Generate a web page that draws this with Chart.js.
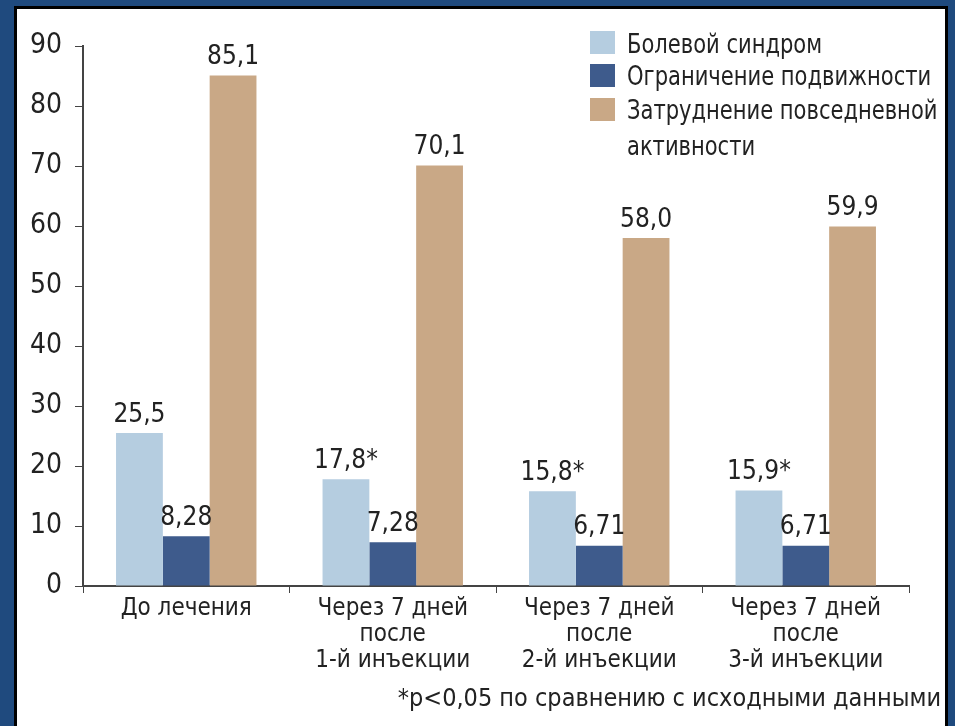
<!DOCTYPE html>
<html>
<head>
<meta charset="utf-8">
<script src="https://cdn.jsdelivr.net/npm/chart.js@4"></script>
<style>
  body { margin: 0; background: #1f4a7e; width: 955px; height: 726px; overflow: hidden; position: relative; font-family: "Liberation Sans Narrow", "DejaVu Sans Condensed", sans-serif; color: #222; }
  #panel { position: absolute; left: 14px; top: 6px; width: 934px; height: 730px; background: #fff; border: 3px solid #000; box-sizing: border-box; }
  #wrap { position: absolute; left: 0; top: 0; width: 955px; height: 726px; }
  .leg { position: absolute; font-size: 26px; line-height: 28px; white-space: nowrap; transform: scaleX(0.9); transform-origin: 0 0; }
  .sw { position: absolute; left: 590px; width: 25px; height: 23px; }
  #note { position: absolute; right: 14px; top: 683px; font-size: 25px; }
</style>
</head>
<body>
<div id="panel"></div>
<div id="wrap"><canvas id="chart"></canvas></div>
<div class="sw" style="top:31px;background:#b5cde0"></div>
<div class="leg" style="left:627px;top:30px">Болевой синдром</div>
<div class="sw" style="top:64px;background:#3e5b8c"></div>
<div class="leg" style="left:627px;top:62px">Ограничение подвижности</div>
<div class="sw" style="top:98px;background:#c9a886"></div>
<div class="leg" style="left:627px;top:96px">Затруднение повседневной</div>
<div class="leg" style="left:627px;top:132px">активности</div>
<div id="note">*p&lt;0,05 по сравнению с исходными данными</div>
<script>
var categories = [
    'До лечения',
    ['Через 7 дней', 'после', '1-й инъекции'],
    ['Через 7 дней', 'после', '2-й инъекции'],
    ['Через 7 дней', 'после', '3-й инъекции']
];
var pain = [25.5, 17.8, 15.8, 15.9];
var mobility = [8.28, 7.28, 6.71, 6.71];
var activity = [85.1, 70.1, 58.0, 59.9];
var painLabels = ['25,5', '17,8*', '15,8*', '15,9*'];
var mobilityLabels = ['8,28', '7,28', '6,71', '6,71'];
var activityLabels = ['85,1', '70,1', '58,0', '59,9'];

var fontName = '"Liberation Sans Narrow", "DejaVu Sans Condensed", sans-serif';

var valueLabels = {
    id: 'valueLabels',
    afterDatasetsDraw: function(chart) {
        var ctx = chart.ctx;
        ctx.save();
        ctx.font = '26px ' + fontName;
        ctx.fillStyle = '#222';
        ctx.textAlign = 'center';
        ctx.textBaseline = 'bottom';
        chart.data.datasets.forEach(function(ds, i) {
            chart.getDatasetMeta(i).data.forEach(function(bar, j) {
                ctx.fillText(ds.valueText[j], bar.x, bar.y - 5);
            });
        });
        ctx.restore();
    }
};

var ctx = document.getElementById('chart').getContext('2d');
var chart = new Chart(ctx, {
    type: 'bar',
    data: {
        labels: categories,
        datasets: [
            { label: 'Болевой синдром', data: pain, valueText: painLabels, backgroundColor: '#b5cde0' },
            { label: 'Ограничение подвижности', data: mobility, valueText: mobilityLabels, backgroundColor: '#3e5b8c' },
            { label: 'Затруднение повседневной активности', data: activity, valueText: activityLabels, backgroundColor: '#c9a886' }
        ]
    },
    options: {
        responsive: true,
        maintainAspectRatio: false,
        animation: false,
        categoryPercentage: 0.68,
        barPercentage: 1,
        layout: { padding: { top: 46, right: 46, bottom: 40, left: 0 } },
        plugins: {
            legend: { display: false },
            tooltip: { enabled: false }
        },
        scales: {
            x: {
                grid: { drawOnChartArea: false, drawTicks: true, tickLength: 7, color: '#444', offset: true },
                border: { display: true, color: '#444', width: 2 },
                ticks: { color: '#222', font: { family: fontName, size: 24, lineHeight: 1.08 }, padding: 3, maxRotation: 0 },
                afterFit: function(s) { s.height = 100; }
            },
            y: {
                min: 0,
                max: 90,
                grid: { drawOnChartArea: false, drawTicks: true, tickLength: 8, color: '#444' },
                border: { display: true, color: '#444', width: 2 },
                ticks: { stepSize: 10, color: '#222', font: { family: fontName, size: 28 }, padding: 13 },
                afterFit: function(s) { s.width = 83; }
            }
        }
    },
    plugins: [valueLabels]
});
</script>
</body>
</html>
